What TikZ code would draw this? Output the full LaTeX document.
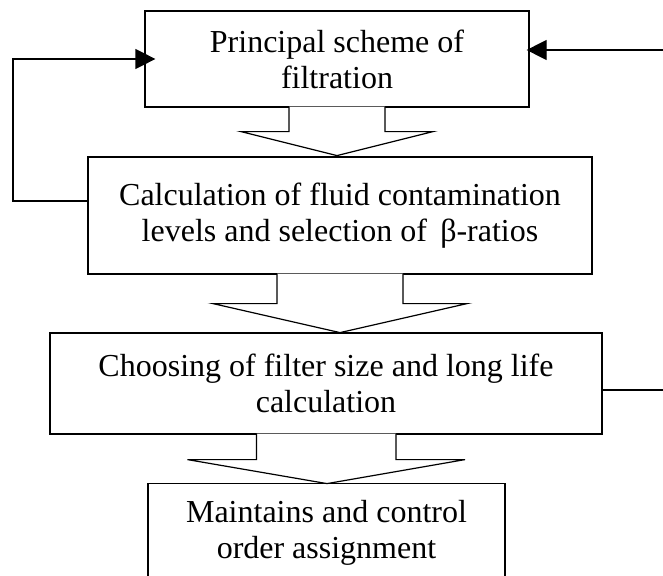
\documentclass[tikz,border=0pt]{standalone}
\usepackage{fontspec}
\setmainfont{Liberation Serif}
\usepackage{tikz}
\usetikzlibrary{arrows.meta,calc,positioning}
\tikzset{
    % Stage box style
    stagebox/.style={
        draw=black,
        fill=white,
        line width=1.2pt,
        align=center,
        inner sep=0pt,
        font=\fontsize{32}{36}\selectfont
    },
    % Block arrow between stages
    blockarrow/.style={
        draw=black,
        fill=white,
        line width=1.2pt,
        line join=miter
    },
    % Feedback arrow
    feedarrow/.style={
        -{Triangle[length=20pt,width=20pt]},
        line width=1.2pt,
        draw=black
    },
    % Plain feedback line
    feedline/.style={
        line width=1.2pt,
        draw=black
    }
}

\begin{document}
\begin{tikzpicture}[x=1pt, y=-1pt]
    \useasboundingbox (0,0) rectangle (663,575);

    \node[stagebox, minimum width=384pt, minimum height=96pt] (scheme) at (337,59) {Principal scheme of\\filtration};
    \node[stagebox, minimum width=504pt, minimum height=117pt] (contam) at (340,215.5) {Calculation of fluid contamination\\levels and selection of \,β-ratios};
    \node[stagebox, minimum width=552pt, minimum height=101pt] (sizing) at (326,383.5) {Choosing of filter size and long life\\calculation};
    \node[stagebox, minimum width=357pt, minimum height=98pt, anchor=north] (maint) at (326.5,483) {Maintains and control\\order assignment};

    % block arrows
    \draw[blockarrow] ($(scheme.south)+(-48,-1)$) -- ++(0,25) -- ++(-48,0) -- ($(scheme.south)+(0,48)$) -- ($(scheme.south)+(96,24)$) -- ++(-48,0) -- ++(0,-25);
    \draw[blockarrow] ($(contam.south)+(-63,-1)$) -- ++(0,30) -- ++(-64,0) -- ($(contam.south)+(0,58)$) -- ($(contam.south)+(127,29)$) -- ++(-64,0) -- ++(0,-30);
    \draw[blockarrow] ($(sizing.south)+(-69.5,-1)$) -- ++(0,26) -- ++(-69,0) -- ($(sizing.south)+(1,49)$) -- ($(sizing.south)+(139,25)$) -- ++(-69,0) -- ++(0,-26);

    % feedback lines
    \coordinate (fbl) at (13,201);
    \coordinate (fbr1) at (664,50);
    \coordinate (fbr3) at (664,390);
    \draw[feedarrow, shorten >=-11pt] (fbl -| contam.west) -- (fbl) |- (scheme.west);
    \draw[feedarrow, shorten >=-3pt] (fbr1) -- (fbr1 -| scheme.east);
    \draw[feedline] (fbr3 -| sizing.east) -- (fbr3);
\end{tikzpicture}
\end{document}
